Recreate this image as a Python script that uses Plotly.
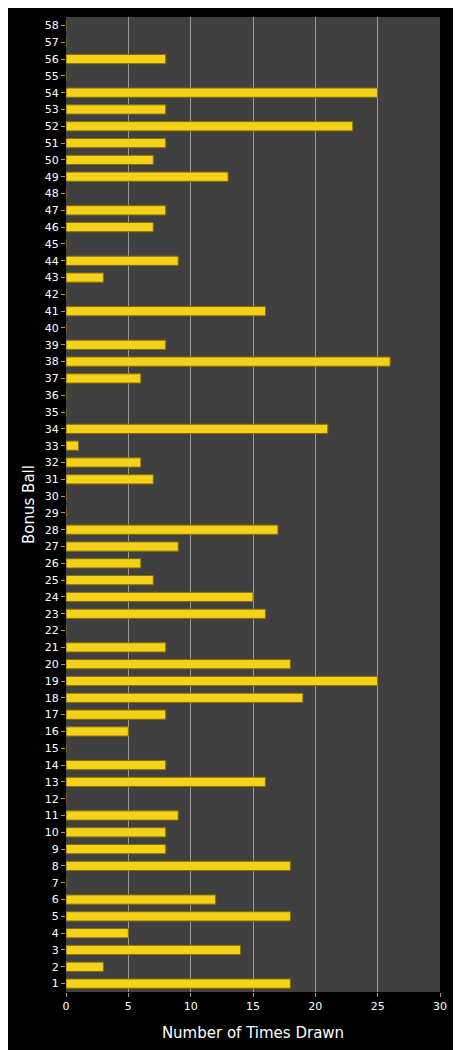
import plotly.graph_objects as go

balls = list(range(1, 59))
counts_by_ball = {
    1: 18, 2: 3, 3: 14, 4: 5, 5: 18, 6: 12, 8: 18, 9: 8, 10: 8, 11: 9,
    13: 16, 14: 8, 16: 5, 17: 8, 18: 19, 19: 25, 20: 18, 21: 8, 23: 16,
    24: 15, 25: 7, 26: 6, 27: 9, 28: 17, 31: 7, 32: 6, 33: 1, 34: 21,
    37: 6, 38: 26, 39: 8, 41: 16, 43: 3, 44: 9, 46: 7, 47: 8, 49: 13,
    50: 7, 51: 8, 52: 23, 53: 8, 54: 25, 56: 8,
}
counts = [counts_by_ball.get(b, 0) for b in balls]
labels = [str(b) for b in balls]

fig = go.Figure()
fig.add_trace(go.Bar(
    x=counts, y=labels, orientation="h",
    marker=dict(color="#f5d21a", line=dict(color="#8a6d00", width=1)),
))

fig.update_layout(
    width=461, height=1050,
    margin=dict(l=58, r=29, t=9, b=66),
    paper_bgcolor="black", plot_bgcolor="#404040",
    font=dict(family="DejaVu Sans", color="white", size=11),
    bargap=0.45, showlegend=False,
    xaxis=dict(range=[0, 30], dtick=5, showgrid=True, gridcolor="#9a9a9a",
               gridwidth=1, zeroline=False, ticks="outside", ticklen=4,
               tickcolor="#9a9a9a",
               title=dict(text="Number of Times Drawn", font=dict(size=15))),
    yaxis=dict(type="category", categoryorder="array", categoryarray=labels,
               showgrid=False, ticks="outside", ticklen=4, tickcolor="#9a9a9a",
               title=dict(text="Bonus Ball", font=dict(size=15), standoff=6)),
)

fig.write_html("out.html")
